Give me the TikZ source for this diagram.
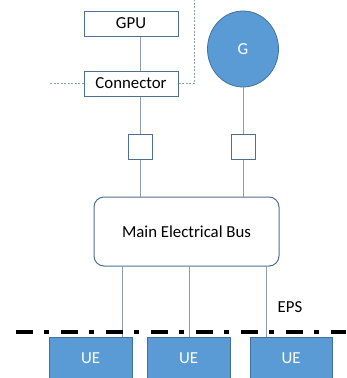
\documentclass[tikz,border=0pt]{standalone}
\usepackage{fontspec}
\setmainfont{Carlito}
\usetikzlibrary{shapes.geometric}
\definecolor{boxedge}{HTML}{4F6F8F}
\definecolor{wire}{HTML}{8C9DB0}
\definecolor{ufill}{HTML}{5B9BD5}
\definecolor{uedge}{HTML}{41719C}
\tikzset{
  txt/.style={font=\fontsize{16.8}{20}\selectfont},
  plain/.style={draw=boxedge, line width=1pt, fill=white, inner sep=0pt, txt},
  unit/.style={draw=uedge, line width=0.8pt, fill=ufill, text=white, inner sep=0pt, txt},
  wireline/.style={draw=wire, line width=0.9pt},
  linkline/.style={draw=wire, line width=0.8pt, dash pattern=on 2pt off 1.5pt},
}
\begin{document}
\begin{tikzpicture}[x=1pt,y=-1pt]
\useasboundingbox (0,0) rectangle (346,378);
% upper feed
\node[plain, minimum width=94pt, minimum height=25pt] (gpu) at (131,23.5) {GPU};
\node[plain, minimum width=94pt, minimum height=25pt] (conn) at (131,83.5) {Connector};
\node[unit, ellipse, minimum width=71pt, minimum height=76pt] (gen) at (243,49) {G};
% breakers
\node[plain, minimum width=24pt, minimum height=25pt] (brk1) at (140,146.5) {};
\node[plain, minimum width=24pt, minimum height=25pt] (brk2) at (243,146.5) {};
% main bus
\node[plain, rounded corners=10pt, minimum width=185pt, minimum height=69pt] (bus) at (186.5,231.5) {Main Electrical Bus};
% loads
\node[unit, minimum width=83pt, minimum height=50pt, anchor=north west] (ue1) at (49,337) {};
\node[unit, minimum width=83pt, minimum height=50pt, anchor=north west] (ue2) at (147,337) {};
\node[unit, minimum width=82pt, minimum height=50pt, anchor=north west] (ue3) at (250,337) {};
\node[text=white, txt] (ue1t) at (90.5,358) {UE};
\node[text=white, txt] (ue2t) at (188.5,358) {UE};
\node[text=white, txt] (ue3t) at (291,358) {UE};
\node[txt] (eps) at (290,307) {EPS};
% wiring
\draw[wireline] (gpu.south -| 140,0) -- (conn.north -| 140,0);
\draw[wireline] (conn.south -| 140,0) -- (brk1.north);
\draw[wireline] (brk1.south) -- (bus.north -| brk1.south);
\draw[wireline] (gen.south) -- (brk2.north);
\draw[wireline] (brk2.south) -- (bus.north -| brk2.south);
\draw[wireline] (bus.south -| 122,0) -- (ue1.north -| 122,0);
\draw[wireline] (bus.south -| 189,0) -- (ue2.north -| 189,0);
\draw[wireline] (bus.south -| 266,0) -- (ue3.north -| 266,0);
% external link
\coordinate (lend) at (50,83.5);
\coordinate (rtop) at (194,0);
\draw[linkline] (conn.west) -- (lend);
\draw[linkline] (conn.east) -| (rtop);
% system boundary
\coordinate (bl) at (16,332);
\coordinate (br) at (346,332);
\draw[line width=4.5pt, dash pattern=on 17pt off 11pt on 5pt off 12pt] (bl) -- (br);
\end{tikzpicture}
\end{document}
